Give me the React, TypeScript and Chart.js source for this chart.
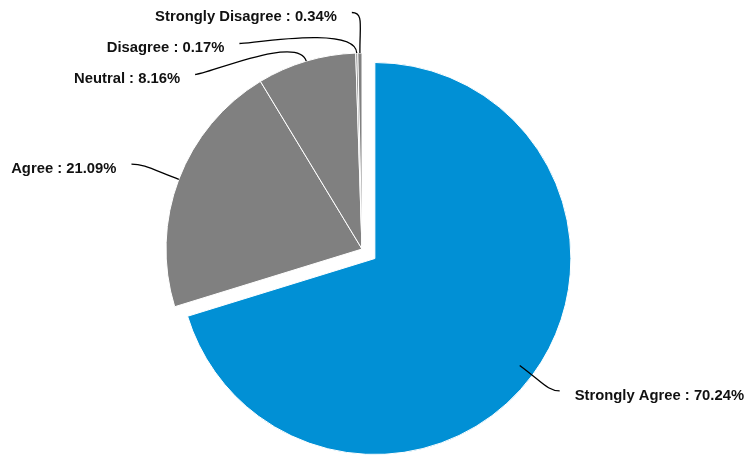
import { useEffect, useRef } from 'react';
import { Chart, ArcElement, PieController } from 'chart.js';

Chart.register(ArcElement, PieController);

const categories = ['Strongly Agree', 'Agree', 'Neutral', 'Disagree', 'Strongly Disagree'];
const values = [70.24, 21.09, 8.16, 0.17, 0.34];
const sliceColors = ['#0190d5', '#808080', '#808080', '#808080', '#808080'];
const explodedIndex = 0;

const EXPLODE = 16;
const PIE_RADIUS = 196;
const LABEL_RX = 247;
const LABEL_RY = 236.7;
const LABEL_NATURAL_R = 239;
const LABEL_GAP = 31;
const LABEL_MIN_Y = 12.5;
const TEXT_GAP = 15;

const explodePlugin = {
  id: 'explodeSlice',
  beforeDatasetDraw(chart: any, args: any) {
    const ctx = chart.ctx;
    args.meta.data.forEach((arc: any, i: number) => {
      ctx.save();
      if (i === explodedIndex) {
        const { startAngle, endAngle } = arc.getProps(['startAngle', 'endAngle'], true);
        const mid = (startAngle + endAngle) / 2;
        ctx.translate(Math.cos(mid) * EXPLODE, Math.sin(mid) * EXPLODE);
      }
      arc.draw(ctx, chart.chartArea);
      ctx.restore();
    });
    return false;
  },
};

const labelPlugin = {
  id: 'outsideLabels',
  afterDatasetsDraw(chart: any) {
    const ctx = chart.ctx;
    const meta = chart.getDatasetMeta(0);
    const data = chart.data.datasets[0].data as number[];
    const total = data.reduce((a, b) => a + b, 0);
    type L = { i: number; mid: number; cx: number; cy: number; r: number; side: number; ny: number; y: number };
    const items: L[] = meta.data.map((arc: any, i: number) => {
      const p = arc.getProps(['x', 'y', 'startAngle', 'endAngle', 'outerRadius'], true);
      const mid = (p.startAngle + p.endAngle) / 2;
      const side = Math.cos(mid) >= 0 ? 1 : -1;
      const ny = p.y + Math.sin(mid) * LABEL_NATURAL_R;
      return { i, mid, cx: p.x, cy: p.y, r: p.outerRadius, side, ny, y: ny };
    });
    [1, -1].forEach((side) => {
      const group = items.filter((it) => it.side === side).sort((a, b) => a.ny - b.ny);
      let prev = -Infinity;
      group.forEach((it, k) => {
        let y = it.ny;
        if (k === 0) y = Math.max(y, LABEL_MIN_Y);
        else y = Math.max(y, prev + LABEL_GAP);
        it.y = y;
        prev = y;
      });
    });
    ctx.save();
    ctx.font = 'bold 14.8px "Liberation Sans", Arial, sans-serif';
    ctx.textBaseline = 'middle';
    items.forEach((it) => {
      const dx = Math.cos(it.mid);
      const dy = Math.sin(it.mid);
      const p0x = it.cx + dx * it.r;
      const p0y = it.cy + dy * it.r;
      const c1x = it.cx + dx * (it.r + 28);
      const c1y = it.cy + dy * (it.r + 28);
      const rel = (it.y - it.cy) / LABEL_RY;
      const ex = it.cx + it.side * LABEL_RX * Math.sqrt(Math.max(0, 1 - rel * rel));
      const ey = it.y;
      const c2x = ex - it.side * 12;
      const c2y = ey;
      ctx.beginPath();
      ctx.moveTo(p0x, p0y);
      ctx.bezierCurveTo(c1x, c1y, c2x, c2y, ex, ey);
      ctx.strokeStyle = '#000';
      ctx.lineWidth = 1.3;
      ctx.stroke();
      const pct = (data[it.i] / total) * 100;
      const text = `${chart.data.labels[it.i]} : ${pct.toFixed(2)}%`;
      ctx.fillStyle = '#111';
      ctx.textAlign = it.side > 0 ? 'left' : 'right';
      ctx.fillText(text, ex + it.side * TEXT_GAP, ey + 4.5);
    });
    ctx.restore();
  },
};

export default function App() {
  const ref = useRef<HTMLCanvasElement | null>(null);
  useEffect(() => {
    if (!ref.current) return;
    const chart = new Chart(ref.current, {
      type: 'pie',
      data: {
        labels: categories,
        datasets: [
          {
            data: values,
            backgroundColor: sliceColors,
            borderColor: '#ffffff',
            borderWidth: 1,
            radius: PIE_RADIUS,
          } as any,
        ],
      },
      options: {
        animation: false,
        responsive: true,
        maintainAspectRatio: false,
        layout: { padding: { left: 0, right: 26, top: 41, bottom: 0 } },
        plugins: { legend: { display: false }, tooltip: { enabled: false } },
        events: [],
      } as any,
      plugins: [explodePlugin, labelPlugin],
    });
    return () => chart.destroy();
  }, []);
  return (
    <div style={{ position: 'fixed', left: 0, top: 0, width: 750, height: 457, background: '#fff' }}>
      <canvas ref={ref} />
    </div>
  );
}
